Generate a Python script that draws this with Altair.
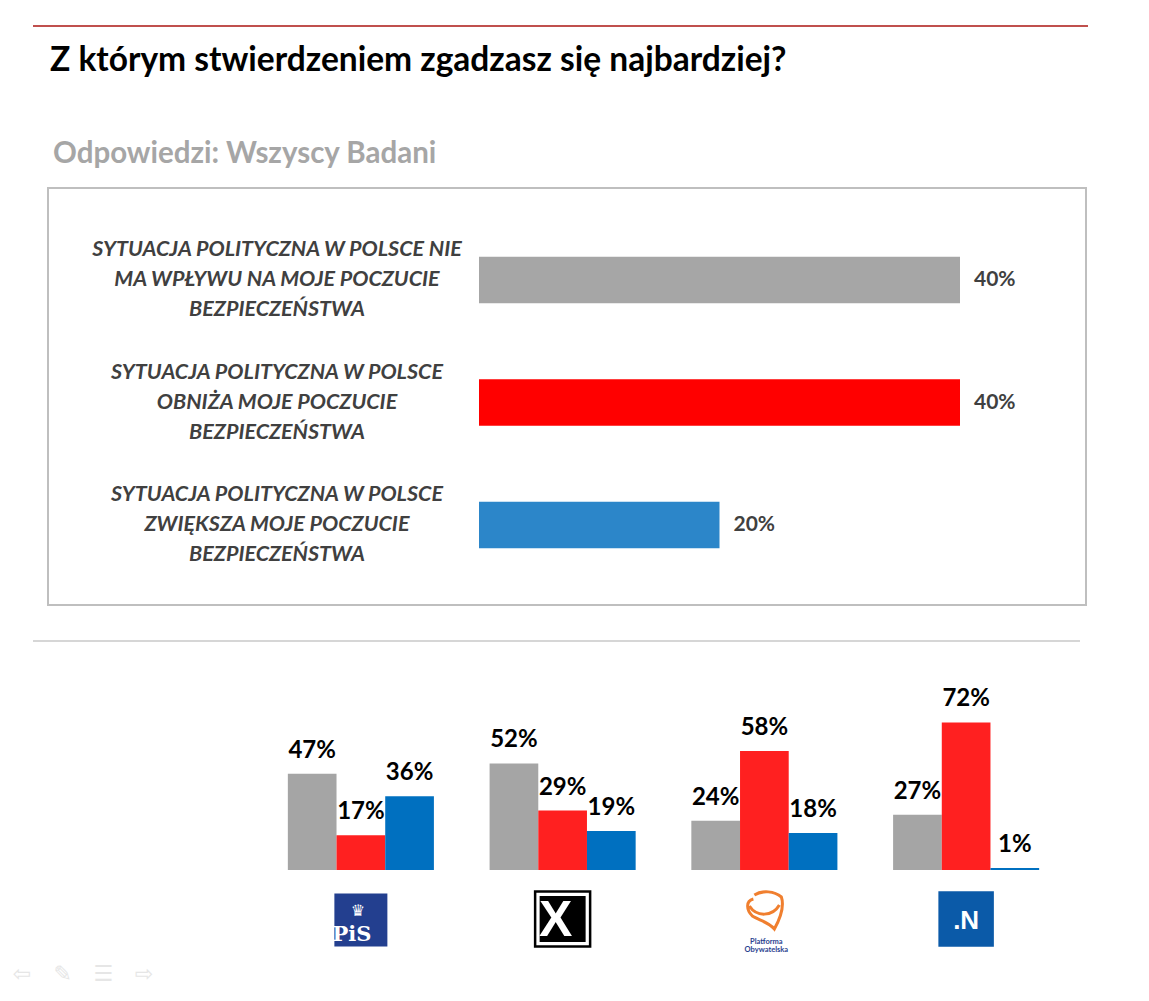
import altair as alt
import pandas as pd

# ---------------- data ----------------
TITLE = "Z którym stwierdzeniem zgadzasz się najbardziej?"
SUBTITLE = "Odpowiedzi: Wszyscy Badani"

TOP_CATEGORIES = [
    "SYTUACJA POLITYCZNA W POLSCE NIE\nMA WPŁYWU NA MOJE POCZUCIE\nBEZPIECZEŃSTWA",
    "SYTUACJA POLITYCZNA W POLSCE\nOBNIŻA MOJE POCZUCIE\nBEZPIECZEŃSTWA",
    "SYTUACJA POLITYCZNA W POLSCE\nZWIĘKSZA MOJE POCZUCIE\nBEZPIECZEŃSTWA",
]
TOP_VALUES = [40, 40, 20]
TOP_COLORS = ["#a6a6a6", "#ff0000", "#2c86c9"]

PARTIES = ["PiS", "Kukiz'15", "Platforma Obywatelska", "Nowoczesna"]
SERIES = ["Nie ma wpływu", "Obniża", "Zwiększa"]
VALUES_PIS = [47, 17, 36]
VALUES_KUKIZ = [52, 29, 19]
VALUES_PO = [24, 58, 18]
VALUES_N = [27, 72, 1]
SERIES_COLORS = ["#a5a5a5", "#ff2020", "#0070c0"]

NAV_ICONS = ["⇦", "✎", "☰", "⇨"]

# ---------------- tables ----------------
one = pd.DataFrame({"k": [0]})
top_df = pd.DataFrame({"category": TOP_CATEGORIES, "value": TOP_VALUES})
rows = []
for p, vals in zip(PARTIES, [VALUES_PIS, VALUES_KUKIZ, VALUES_PO, VALUES_N]):
    for s, v in zip(SERIES, vals):
        rows.append({"party": p, "series": s, "value": v})
bot_df = pd.DataFrame(rows)
logo_df = pd.DataFrame({"party": PARTIES})
nav_df = pd.DataFrame({"icon": NAV_ICONS, "i": list(range(len(NAV_ICONS)))})

FONT = "Lato"

# ---------------- scales ----------------
xs_top = alt.Scale(domain=[0, 40], range=[471, 952])
ys_top = alt.Scale(domain=TOP_CATEGORIES, range=[210.75, 578.25], paddingInner=0.62, paddingOuter=0.31)
cs_top = alt.Scale(domain=TOP_CATEGORIES, range=TOP_COLORS)

xs_b = alt.Scale(domain=PARTIES, range=[252, 1059], paddingInner=0.276, paddingOuter=0.138)
xo_b = alt.Scale(type="band", domain=SERIES, paddingInner=0, paddingOuter=0)
xo_t = alt.Scale(type="point", domain=SERIES, padding=0.5)
ys_b = alt.Scale(domain=[0, 100], range=[862, 657])
cs_b = alt.Scale(domain=SERIES, range=SERIES_COLORS)

xs_nav = alt.Scale(domain=[0, 3], range=[14, 136])

# ---------------- decorations ----------------
red_line = alt.Chart(one).mark_rule(color="#c0504d", strokeWidth=2).encode(
    x=alt.value(25), x2=alt.value(1080), y=alt.value(18))

title = alt.Chart(pd.DataFrame({"t": [TITLE]})).mark_text(
    align="left", baseline="alphabetic", font=FONT, fontSize=33.5, fontWeight="bold", color="#000000"
).encode(x=alt.value(42), y=alt.value(63), text="t:N")

subtitle = alt.Chart(pd.DataFrame({"t": [SUBTITLE]})).mark_text(
    align="left", baseline="alphabetic", font=FONT, fontSize=29.5, fontWeight="bold", color="#a6a6a6"
).encode(x=alt.value(45), y=alt.value(155), text="t:N")

box = alt.Chart(one).mark_rect(fill="white", stroke="#bfbfbf", strokeWidth=2).encode(
    x=alt.value(40), x2=alt.value(1078), y=alt.value(180), y2=alt.value(597))

sep = alt.Chart(one).mark_rule(color="#c8c8c8", strokeWidth=1.5).encode(
    x=alt.value(25), x2=alt.value(1072), y=alt.value(633))

nav = alt.Chart(nav_df).mark_text(
    font="DejaVu Sans", fontSize=22, color="#e6e6e6", baseline="middle"
).encode(x=alt.X("i:Q", scale=xs_nav, axis=None), y=alt.value(966), text="icon:N")

# ---------------- top chart ----------------
top_bars = alt.Chart(top_df).mark_bar().encode(
    x=alt.X("value:Q", scale=xs_top, axis=None),
    y=alt.Y("category:N", scale=ys_top, axis=None),
    color=alt.Color("category:N", scale=cs_top, legend=None),
)
top_vals = alt.Chart(top_df).transform_calculate(lbl="datum.value + '%'").mark_text(
    align="left", baseline="middle", dx=14, font=FONT, fontSize=21, fontWeight="bold", color="#404040"
).encode(
    x=alt.X("value:Q", scale=xs_top, axis=None),
    y=alt.Y("category:N", scale=ys_top, axis=None),
    text="lbl:N",
)
top_cats = alt.Chart(top_df).mark_text(
    align="center", baseline="middle", lineBreak="\n", lineHeight=30, dy=-30, font=FONT, fontSize=21.5,
    fontWeight="bold", fontStyle="italic", color="#404040"
).encode(
    x=alt.value(269),
    y=alt.Y("category:N", scale=ys_top, axis=None),
    text="category:N",
)

# ---------------- bottom chart ----------------
bot_bars = alt.Chart(bot_df).mark_bar().encode(
    x=alt.X("party:N", scale=xs_b, axis=None),
    xOffset=alt.XOffset("series:N", scale=xo_b),
    y=alt.Y("value:Q", scale=ys_b, axis=None),
    color=alt.Color("series:N", scale=cs_b, legend=None),
)
bot_vals = alt.Chart(bot_df).transform_calculate(lbl="datum.value + '%'").mark_text(
    align="center", baseline="alphabetic", dy=-16, font=FONT, fontSize=24, fontWeight="bold", color="#000000"
).encode(
    x=alt.X("party:N", scale=xs_b, axis=None),
    xOffset=alt.XOffset("series:N", scale=xo_t),
    y=alt.Y("value:Q", scale=ys_b, axis=None),
    text="lbl:N",
)

# ---------------- logos ----------------
LX = alt.X("party:N", scale=xs_b, axis=None)

pis_sq = alt.Chart(logo_df).transform_filter(alt.datum.party == "PiS").mark_square(
    size=2809, color="#233f8f", opacity=1, dx=-9).encode(x=LX, y=alt.value(912))
pis_txt = alt.Chart(logo_df).transform_filter(alt.datum.party == "PiS").mark_text(
    font="DejaVu Serif", fontSize=21, fontWeight="bold", color="white", baseline="middle", dx=-9
).encode(x=LX, y=alt.value(927), text=alt.value("PiS"))
pis_crown = alt.Chart(logo_df).transform_filter(alt.datum.party == "PiS").mark_text(
    font="DejaVu Sans", fontSize=16, color="white", baseline="middle", dx=-3
).encode(x=LX, y=alt.value(903), text=alt.value("♛"))

k_outer = alt.Chart(logo_df).transform_filter(alt.datum.party == "Kukiz'15").mark_square(
    size=3025, fill="white", stroke="black", strokeWidth=2.5, opacity=1, dx=-7).encode(x=LX, y=alt.value(911))
k_inner = alt.Chart(logo_df).transform_filter(alt.datum.party == "Kukiz'15").mark_square(
    size=2116, color="black", opacity=1, dx=-7).encode(x=LX, y=alt.value(911))
k_x = alt.Chart(logo_df).transform_filter(alt.datum.party == "Kukiz'15").mark_text(
    font="Liberation Sans", fontSize=50, fontWeight="bold", color="white", baseline="middle", dx=-7
).encode(x=LX, y=alt.value(913), text=alt.value("X"))

PO_PATH = ("M -0.5 -0.75 C -0.1 -1.0 0.5 -0.95 0.85 -0.65 C 1.0 -0.2 0.8 0.4 0.5 0.95 "
           "C 0.2 0.6 -0.3 0.5 -0.6 0.3 C -0.9 0.0 -0.95 -0.45 -0.55 -0.55 "
           "M -0.75 -0.2 C -0.4 0.35 0.4 0.35 0.75 -0.25")
po_logo = alt.Chart(logo_df).transform_filter(alt.datum.party == "Platforma Obywatelska").mark_point(
    shape=PO_PATH, size=1600, filled=False, color="#f07f2f", strokeWidth=3, opacity=1, dx=2
).encode(x=LX, y=alt.value(902))
po_txt = alt.Chart(logo_df).transform_filter(alt.datum.party == "Platforma Obywatelska").mark_text(
    font=FONT, fontSize=7.5, fontWeight="bold", color="#2a3f8f", lineBreak="\n", lineHeight=8,
    baseline="middle", dx=2
).encode(x=LX, y=alt.value(934), text=alt.value("Platforma\nObywatelska"))

n_sq = alt.Chart(logo_df).transform_filter(alt.datum.party == "Nowoczesna").mark_square(
    size=3080, color="#0b5aa8", opacity=1).encode(x=LX, y=alt.value(911))
n_txt = alt.Chart(logo_df).transform_filter(alt.datum.party == "Nowoczesna").mark_text(
    font="Liberation Sans", fontSize=26, fontWeight="bold", color="white", baseline="middle"
).encode(x=LX, y=alt.value(913), text=alt.value(".N"))

chart = alt.layer(
    red_line, title, subtitle, box, sep, nav,
    top_bars, top_vals, top_cats,
    bot_bars, bot_vals,
    pis_sq, pis_txt, pis_crown, k_outer, k_inner, k_x, po_logo, po_txt, n_sq, n_txt,
).resolve_scale(
    x="independent", y="independent", color="independent", xOffset="independent"
).properties(
    width=1120, height=982, padding=0,
    autosize=alt.AutoSizeParams(type="none"),
).configure(
    background="white",
    view=alt.ViewConfig(stroke="transparent", strokeWidth=0),
)

chart.save("out.html", embed_options={"renderer": "svg", "actions": False})
